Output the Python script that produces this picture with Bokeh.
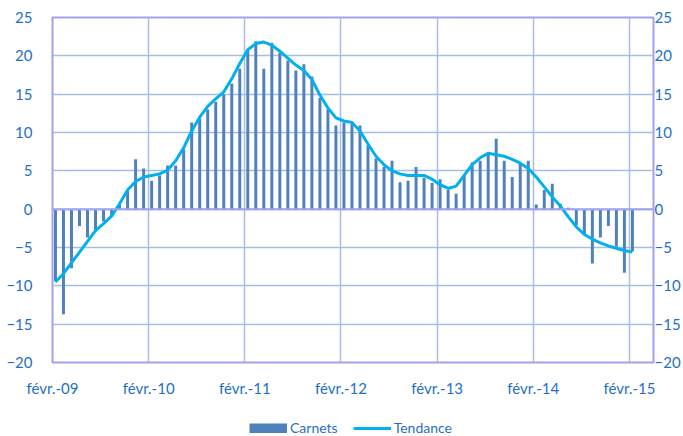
from bokeh.plotting import figure
from bokeh.models import Range1d, LinearAxis, FixedTicker, Span, Legend, LegendItem, ColumnDataSource
from bokeh.layouts import column
from bokeh.embed import file_html
from bokeh.resources import INLINE
import pandas as pd

# ---- data ----
months = [d.strftime("%Y-%m") for d in pd.date_range("2009-02-01", "2015-02-01", freq="MS")]

carnets = [-9.4, -13.7, -7.7, -2.2, -3.7, -2.9, -1.6, -0.9, 0.6, 2.4,
           6.5, 5.3, 3.7, 4.4, 5.7, 5.7, 7.8, 11.3, 11.8, 13.0,
           14.0, 15.0, 16.4, 18.3, 20.7, 21.9, 18.3, 21.7, 20.4, 19.4,
           18.1, 18.9, 17.3, 14.5, 13.0, 10.9, 11.3, 11.4, 10.9, 8.3,
           6.6, 5.5, 6.3, 3.5, 3.7, 5.5, 4.1, 3.4, 3.9, 2.5,
           2.0, 4.4, 6.1, 6.3, 7.2, 9.2, 6.3, 4.2, 6.1, 6.3,
           0.6, 2.5, 3.3, 0.7, 0.2, -2.1, -3.3, -7.1, -3.7, -2.2,
           -4.9, -8.3, -5.5]

tendance = [-9.5, -8.4, -7.0, -5.6, -4.2, -2.8, -1.9, -0.9, 0.7, 2.5,
            3.6, 4.2, 4.4, 4.6, 5.1, 6.3, 8.0, 10.2, 12.0, 13.4,
            14.4, 15.3, 17.0, 19.0, 20.8, 21.6, 21.8, 21.4, 20.6, 19.7,
            18.8, 18.1, 16.9, 14.9, 13.2, 11.9, 11.5, 11.3, 10.2, 8.5,
            6.9, 5.8, 5.0, 4.6, 4.4, 4.4, 4.4, 3.9, 3.2, 2.7,
            3.0, 4.4, 5.8, 6.7, 7.3, 7.1, 6.9, 6.5, 6.0, 5.3,
            4.2, 2.9, 1.6, 0.4, -1.0, -2.3, -3.3, -3.9, -4.4, -4.8,
            -5.1, -5.4, -5.6]

tick_labels = ["févr.-09", "févr.-10", "févr.-11", "févr.-12", "févr.-13", "févr.-14", "févr.-15"]
y_ticks = [-20, -15, -10, -5, 0, 5, 10, 15, 20, 25]
series_names = ["Carnets", "Tendance"]

# ---- positions ----
idx = list(range(len(months)))
xpos = [i + 0.37 for i in idx]
feb_idx = [i for i, m in enumerate(months) if m.endswith("-02")]

src = ColumnDataSource(dict(x=xpos, carnets=carnets, tendance=tendance))

LABEL_COLOR = "#1F6FC8"
FONT = "Lato"
GRID = "#A9BEDF"
BORDER = "#A0A0F0"
BAR_COLOR = "#4F81BD"
LINE_COLOR = "#00B0F0"

p = figure(width=683, height=402, output_backend="svg", toolbar_location=None,
           x_range=Range1d(0, 75), y_range=Range1d(-20, 25),
           min_border_left=52, min_border_right=29, min_border_top=17, min_border_bottom=40)

p.outline_line_color = BORDER
p.outline_line_width = 2

# grids
p.xgrid.ticker = FixedTicker(ticks=feb_idx)
p.ygrid.ticker = FixedTicker(ticks=y_ticks)
for g in (p.xgrid, p.ygrid):
    g.grid_line_color = GRID
    g.grid_line_width = 1.5

# x axis
xa = p.xaxis[0]
xa.ticker = FixedTicker(ticks=feb_idx)
xa.major_label_overrides = {i: lab for i, lab in zip(feb_idx, tick_labels)}
xa.axis_line_color = None
xa.major_tick_line_color = None
xa.minor_tick_line_color = None
xa.major_tick_out = 0
xa.major_tick_in = 0
xa.major_label_standoff = 16
xa.major_label_text_font = FONT
xa.major_label_text_font_size = "15px"
xa.major_label_text_color = LABEL_COLOR

# y axes
ya = p.yaxis[0]
ra = LinearAxis()
p.add_layout(ra, "right")
for a, st in ((ya, 20), (ra, 1)):
    a.ticker = FixedTicker(ticks=y_ticks)
    a.axis_line_color = None
    a.major_tick_line_color = None
    a.minor_tick_line_color = None
    a.major_tick_out = 0
    a.major_tick_in = 0
    a.major_label_standoff = st
    a.major_label_text_font = FONT
    a.major_label_text_font_size = "15px"
    a.major_label_text_color = LABEL_COLOR

# bars
p.vbar(x="x", top="carnets", bottom=0, width=0.37, source=src,
       fill_color=BAR_COLOR, line_color=None)

# zero line
p.add_layout(Span(location=0, dimension="width", line_color=BORDER, line_width=2))

# trend
p.line(x="x", y="tendance", source=src, line_color=LINE_COLOR, line_width=3)

# ---- legend strip below the chart (same series; ranges keep its marks out of view) ----
lg = figure(width=683, height=34, output_backend="svg", toolbar_location=None,
            x_range=Range1d(-1000, -999), y_range=Range1d(1000, 1001),
            x_axis_location=None, y_axis_location=None,
            min_border_left=0, min_border_right=0, min_border_top=0, min_border_bottom=0)
lg.outline_line_color = None
lg.xgrid.visible = False
lg.ygrid.visible = False
# a thick butt-capped line gives a solid 38x10 swatch for the bar series
r_bar = lg.line(x="x", y="carnets", source=src, line_color=BAR_COLOR,
                line_width=10, line_cap="butt")
r_line = lg.line(x="x", y="tendance", source=src, line_color=LINE_COLOR, line_width=3)

legend = Legend(items=[LegendItem(label=series_names[0], renderers=[r_bar]),
                       LegendItem(label=series_names[1], renderers=[r_line])],
                location=(197, 0), orientation="horizontal",
                glyph_width=38, glyph_height=10, label_height=14,
                label_standoff=3, spacing=15, padding=0, margin=0,
                border_line_color=None, background_fill_alpha=0,
                label_text_font=FONT, label_text_font_size="14px",
                label_text_color=LABEL_COLOR)
lg.add_layout(legend, "center")

layout = column(p, lg, spacing=0)
open("out.html", "w").write(file_html(layout, INLINE))
